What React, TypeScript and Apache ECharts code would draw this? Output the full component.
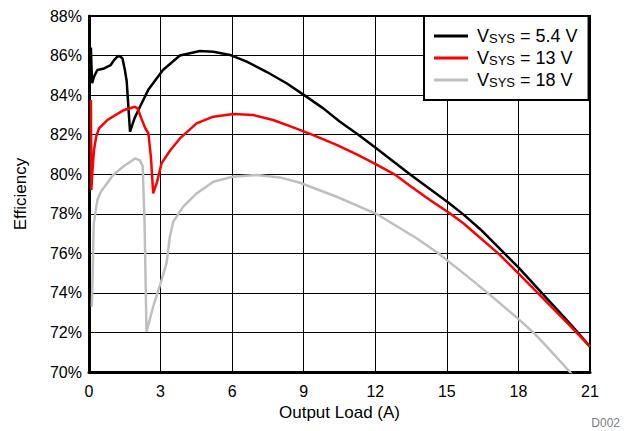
import React, { useEffect, useRef } from "react";
import * as echarts from "echarts";

const FONT = "'Liberation Sans', Arial, Helvetica, sans-serif";

const seriesNames = ["5.4 V", "13 V", "18 V"];
const seriesColors = ["#000000", "#ff0000", "#bfbfbf"];

const xTicks = { min: 0, max: 21, interval: 3 };
const yTicks = { min: 70, max: 88, interval: 2 };

const sys54X = [0.08, 0.1, 0.13, 0.21, 0.35, 0.63, 0.91, 1.05, 1.19, 1.27, 1.4, 1.5, 1.58, 1.72, 1.9, 2.07, 2.5, 3.1, 3.81, 4.65, 5.21, 5.91, 6.61, 7.44, 8.28, 9.02, 9.82, 10.52, 11.29, 12.04, 13.45, 14.29, 15.03, 15.69, 16.4, 17.08, 18.03, 18.9, 20.16, 21.0];
const sys54Y = [86.4, 85.6, 84.6, 84.93, 85.27, 85.35, 85.52, 85.77, 85.94, 85.98, 85.86, 85.3, 84.7, 82.15, 82.8, 83.25, 84.3, 85.27, 86.0, 86.23, 86.19, 86.03, 85.69, 85.18, 84.6, 84.0, 83.33, 82.65, 82.0, 81.31, 80.0, 79.25, 78.6, 77.97, 77.22, 76.4, 75.25, 74.1, 72.45, 71.28];

const sys13X = [0.08, 0.1, 0.15, 0.21, 0.3, 0.42, 0.77, 1.47, 1.93, 2.05, 2.2, 2.35, 2.49, 2.6, 2.69, 2.85, 3.04, 3.4, 3.81, 4.51, 5.21, 6.05, 6.89, 7.72, 8.56, 9.4, 10.38, 11.2, 12.04, 12.82, 13.45, 14.29, 15.15, 15.69, 17.15, 18.03, 20.16, 21.0];
const sys13Y = [83.75, 79.2, 80.3, 81.22, 81.9, 82.32, 82.74, 83.25, 83.41, 83.3, 82.8, 82.35, 82.07, 80.8, 79.03, 79.6, 80.55, 81.2, 81.81, 82.57, 82.91, 83.04, 82.99, 82.74, 82.37, 81.98, 81.48, 81.02, 80.5, 79.98, 79.42, 78.7, 78.0, 77.52, 76.0, 74.95, 72.35, 71.28];

const sys18X = [0.12, 0.2, 0.35, 0.49, 0.91, 1.0, 1.4, 1.93, 2.14, 2.25, 2.33, 2.41, 2.69, 3.04, 3.25, 3.39, 3.53, 3.95, 4.51, 5.21, 6.02, 7.03, 8.0, 8.84, 10.38, 12.04, 13.73, 14.64, 15.69, 16.81, 18.03, 18.62, 19.18, 20.16, 20.3];
const sys18Y = [73.3, 77.5, 78.7, 79.1, 79.8, 79.95, 80.35, 80.8, 80.7, 80.4, 77.5, 72.04, 73.3, 74.65, 75.5, 76.84, 77.6, 78.36, 79.03, 79.62, 79.87, 79.96, 79.84, 79.57, 78.86, 78.0, 76.76, 76.0, 75.0, 73.9, 72.65, 72.0, 71.3, 70.0, 69.8];

const seriesX = [sys54X, sys13X, sys18X];
const seriesY = [sys54Y, sys13Y, sys18Y];

export default function App() {
  const ref = useRef<HTMLDivElement>(null);
  useEffect(() => {
    if (!ref.current) return;
    const chart = echarts.init(ref.current, null, { renderer: "svg" });
    chart.setOption({
      animation: false,
      backgroundColor: "#ffffff",
      textStyle: { fontFamily: FONT },
      grid: {
        left: 89,
        right: 36,
        top: 16,
        bottom: 59,
        show: true,
        borderColor: "#000",
        borderWidth: 2,
        containLabel: false,
      },
      xAxis: {
        type: "value",
        min: xTicks.min,
        max: xTicks.max,
        interval: xTicks.interval,
        name: "Output Load (A)",
        nameLocation: "middle",
        nameGap: 28,
        nameTextStyle: { fontSize: 17, color: "#000", fontFamily: FONT },
        axisLine: { show: true, lineStyle: { color: "#000", width: 3 } },
        axisTick: { show: false },
        axisLabel: { fontSize: 16, color: "#000", margin: 11, fontFamily: FONT },
        splitLine: { show: true, lineStyle: { color: "#000", width: 1 } },
      },
      yAxis: {
        type: "value",
        min: yTicks.min,
        max: yTicks.max,
        interval: yTicks.interval,
        name: "Efficiency",
        nameLocation: "middle",
        nameGap: 60,
        nameTextStyle: { fontSize: 17, color: "#000", fontFamily: FONT },
        axisLine: { show: true, lineStyle: { color: "#000", width: 3 } },
        axisTick: { show: false },
        axisLabel: {
          fontSize: 16,
          color: "#000",
          margin: 7,
          fontFamily: FONT,
          formatter: "{value}%",
        },
        splitLine: { show: true, lineStyle: { color: "#000", width: 1 } },
      },
      legend: {
        orient: "vertical",
        left: 424,
        top: 16,
        padding: [11, 11, 11, 10],
        borderColor: "#000",
        borderWidth: 2,
        backgroundColor: "#fff",
        itemWidth: 34,
        itemHeight: 3,
        itemGap: 4,
        icon: "rect",
        data: seriesNames,
        formatter: (name: string) => `{v|V}{s|SYS}{v| = ${name}}`,
        textStyle: {
          padding: [0, 0, 0, 4],
          rich: {
            v: { fontSize: 18, lineHeight: 18, color: "#000", fontFamily: FONT },
            s: { fontSize: 13, lineHeight: 8, verticalAlign: "bottom", color: "#000", fontFamily: FONT },
          },
        },
      },
      graphic: [
        {
          type: "text",
          right: 6,
          top: 417,
          style: { text: "D002", fontSize: 12, fill: "#808080", fontFamily: FONT },
        },
      ],
      series: seriesNames.map((name, i) => ({
        name,
        type: "line",
        showSymbol: false,
        symbol: "none",
        smooth: false,
        clip: true,
        color: seriesColors[i],
        lineStyle: { color: seriesColors[i], width: 2.5 },
        data: seriesX[i].map((x, j) => [x, seriesY[i][j]]),
      })),
    });
    return () => chart.dispose();
  }, []);
  return <div ref={ref} style={{ width: 626, height: 431, position: "absolute", left: 0, top: 0 }} />;
}
